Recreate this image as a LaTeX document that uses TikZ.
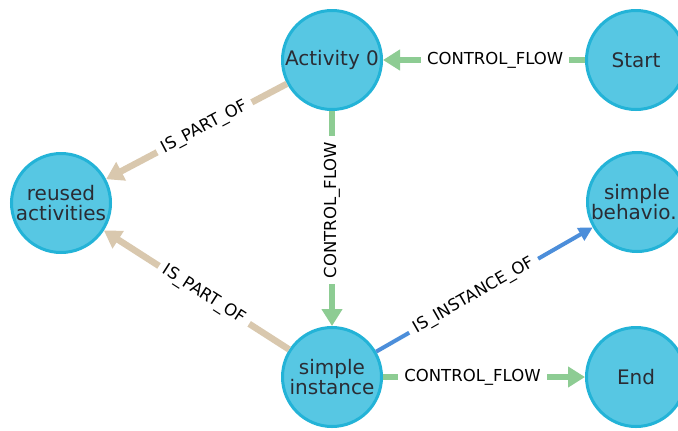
\documentclass[tikz,border=0pt]{standalone}
\usepackage{fontspec}
\setmainfont{DejaVu Sans}
\usetikzlibrary{arrows.meta}
\definecolor{nodefill}{HTML}{57C7E3}
\definecolor{nodeline}{HTML}{23B3D7}
\definecolor{flowgreen}{HTML}{8DCC93}
\definecolor{partbeige}{HTML}{D9C8AE}
\definecolor{instblue}{HTML}{4C8EDA}
\definecolor{captiontext}{HTML}{2A2C34}

\begin{document}
\begin{tikzpicture}[x=1bp,y=-1bp,
  entity/.style={circle, draw=nodeline, fill=nodefill, line width=3bp,
    minimum size=99bp, inner sep=0pt, align=center, text=captiontext,
    font=\fontsize{20bp}{20.5bp}\selectfont},
  rel/.style={line width=6.5bp, -{Triangle[length=17bp,width=20bp]}},
  flow/.style={rel, draw=flowgreen},
  partof/.style={rel, draw=partbeige},
  instof/.style={line width=4bp, draw=instblue, -{Triangle[length=14bp,width=14bp]}},
  rellabel/.style={fill=white, inner xsep=6bp, inner ysep=1bp, text=black,
    font=\fontsize{16.5bp}{16.5bp}\selectfont}
]
\useasboundingbox (0,0) rectangle (678,430);
\fill[white] (0,0) rectangle (678,430);

% entities
\node[entity] (act)   at (332,60)  {Activity 0};
\node[entity] (start) at (636,60)  {Start};
\node[entity] (reuse) at (61,203)  {reused\\activities};
\node[entity] (behav) at (637,202) {simple\\behavio..};
\node[entity] (inst)  at (332,377) {simple\\instance};
\node[entity] (end)   at (636,377) {End};

% relationships
\draw[flow] (start) -- node[rellabel, pos=0.445] {CONTROL\_FLOW} (act);
\draw[flow] (act) -- node[rellabel, rotate=90, pos=0.46] {CONTROL\_FLOW} (inst);
\draw[flow] (inst) -- node[rellabel, pos=0.443] {CONTROL\_FLOW} (end);
\draw[partof] (act) -- node[rellabel, sloped, pos=0.456] {IS\_PART\_OF} (reuse);
\draw[partof] (inst) -- node[rellabel, sloped, pos=0.459] {IS\_PART\_OF} (reuse);
\draw[instof] (inst) -- node[rellabel, sloped, pos=0.45] {IS\_INSTANCE\_OF} (behav);
\end{tikzpicture}
\end{document}
